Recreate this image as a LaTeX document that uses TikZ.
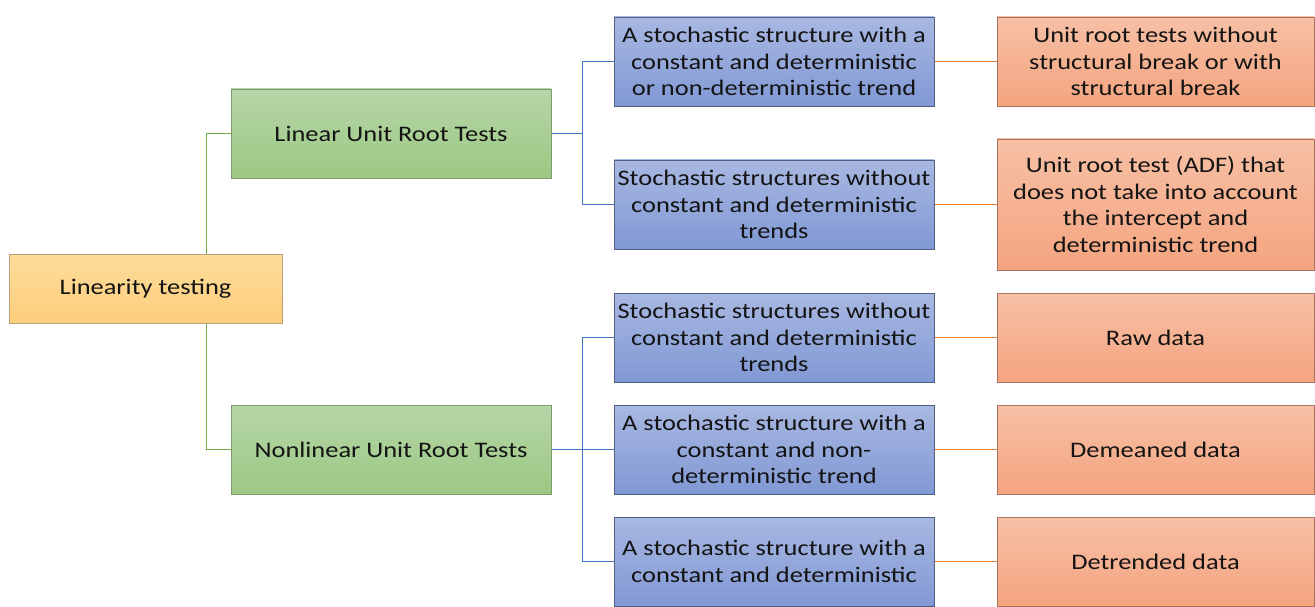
\documentclass[tikz,border=0pt]{standalone}
\usepackage{fontspec}
\setmainfont{Carlito}[FakeStretch=1.19]
\usetikzlibrary{backgrounds}
\definecolor{gtop}{HTML}{B6D6A7}
\definecolor{gbot}{HTML}{9CC883}
\definecolor{gbord}{HTML}{7E9A6E}
\definecolor{ytop}{HTML}{FDDC9A}
\definecolor{ybot}{HTML}{FDCE7C}
\definecolor{ybord}{HTML}{B9A07A}
\definecolor{btop}{HTML}{A9B8E2}
\definecolor{bbot}{HTML}{8098D4}
\definecolor{bbord}{HTML}{50607F}
\definecolor{otop}{HTML}{F7C0A5}
\definecolor{obot}{HTML}{F4A47F}
\definecolor{obord}{HTML}{A8735E}
\definecolor{gline}{HTML}{70AD47}
\definecolor{bline}{HTML}{4472C4}
\definecolor{oline}{HTML}{ED7D31}
\definecolor{txt}{HTML}{141414}
\tikzset{
  basebox/.style={draw, line width=0.9pt, inner sep=0pt, align=center, text=txt,
    font=\fontsize{22.2}{26.6}\selectfont},
  rootbox/.style={basebox, draw=ybord, top color=ytop, bottom color=ybot, minimum width=273, minimum height=69},
  greenbox/.style={basebox, draw=gbord, top color=gtop, bottom color=gbot, minimum width=320, minimum height=89},
  bluebox/.style={basebox, draw=bbord, top color=btop, bottom color=bbot, minimum width=320, minimum height=89},
  orangebox/.style={basebox, draw=obord, top color=otop, bottom color=obot, minimum width=317, minimum height=89},
  gconn/.style={draw=gline, line width=1.8pt},
  bconn/.style={draw=bline, line width=1.8pt},
  oconn/.style={draw=oline, line width=1.8pt},
}
\begin{document}
\begin{tikzpicture}[x=1pt,y=-1pt]
\useasboundingbox (0,0) rectangle (1315,607);
\node[rootbox] (root) at (145.5,288.5) {Linearity testing};
\node[greenbox] (lin) at (391,133.5) {Linear Unit Root Tests};
\node[greenbox] (non) at (391,449.5) {Nonlinear Unit Root Tests};
\node[bluebox] (b1) at (774,61.5) {A stochastic structure with a\\constant and deterministic\\or non-deterministic trend};
\node[bluebox] (b2) at (774,204.5) {Stochastic structures without\\constant and deterministic\\trends};
\node[bluebox] (b3) at (774,337.5) {Stochastic structures without\\constant and deterministic\\trends};
\node[bluebox] (b4) at (774,449.5) {A stochastic structure with a\\constant and non-\\deterministic trend};
\node[bluebox] (b5) at (774,561.5) {A stochastic structure with a\\constant and deterministic};
\node[orangebox] (o1) at (1155.5,61.5) {Unit root tests without\\structural break or with\\structural break};
\node[orangebox,minimum height=131] (o2) at (1155.5,204.5) {Unit root test (ADF) that\\does not take into account\\the intercept and\\deterministic trend};
\node[orangebox] (o3) at (1155.5,337.5) {Raw data};
\node[orangebox] (o4) at (1155.5,449.5) {Demeaned data};
\node[orangebox] (o5) at (1155.5,561.5) {Detrended data};
\begin{scope}[on background layer]
  \draw[gconn] (lin.west) -- ++(-24,0) coordinate (gv) |- (non.west);
  \draw[bconn] (lin.east) -- ++(31,0) coordinate (lv);
  \draw[bconn] (lv) |- (b1.west);
  \draw[bconn] (lv) |- (b2.west);
  \draw[bconn] (non.east) -- ++(31,0) coordinate (nv);
  \draw[bconn] (nv) |- (b3.west);
  \draw[bconn] (nv) -- (b4.west);
  \draw[bconn] (nv) |- (b5.west);
  \draw[oconn] (b1.east) -- (o1.west);
  \draw[oconn] (b2.east) -- (o2.west);
  \draw[oconn] (b3.east) -- (o3.west);
  \draw[oconn] (b4.east) -- (o4.west);
  \draw[oconn] (b5.east) -- (o5.west);
\end{scope}
\end{tikzpicture}
\end{document}
